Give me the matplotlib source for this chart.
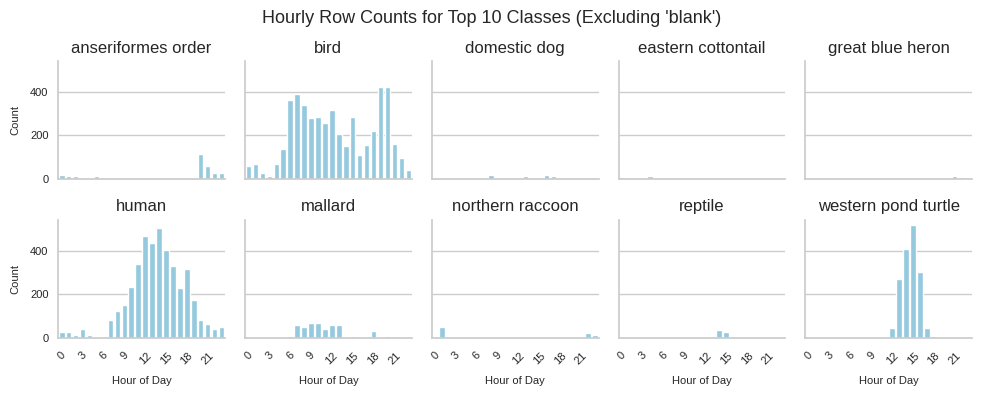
import matplotlib
matplotlib.use("Agg")
import matplotlib.pyplot as plt
import seaborn as sns

sns.set_theme(style="whitegrid")
plt.rcParams["font.family"] = ["Liberation Sans", "DejaVu Sans"]

hours = list(range(24))

classes = [
    "anseriformes order", "bird", "domestic dog", "eastern cottontail", "great blue heron",
    "human", "mallard", "northern raccoon", "reptile", "western pond turtle",
]

anseriformes_order = [20, 12, 16, 0, 0, 15, 0, 0, 0, 0, 0, 0, 0, 0, 0, 0, 0, 0, 0, 0, 113, 60, 29, 26]
bird = [62, 71, 27, 12, 71, 139, 362, 390, 339, 280, 285, 258, 317, 208, 153, 285, 112, 158, 221, 422, 422, 162, 98, 40]
domestic_dog = [0, 0, 0, 0, 0, 0, 0, 0, 19, 0, 0, 0, 0, 14, 0, 0, 21, 14, 0, 0, 0, 0, 0, 0]
eastern_cottontail = [10, 0, 0, 0, 12, 0, 0, 0, 0, 0, 0, 0, 0, 0, 0, 0, 0, 0, 0, 0, 0, 0, 0, 0]
great_blue_heron = [0, 0, 0, 0, 0, 0, 0, 0, 0, 0, 0, 0, 0, 0, 0, 0, 0, 0, 0, 0, 0, 16, 11, 0]
human = [28, 24, 14, 38, 14, 0, 0, 79, 121, 149, 232, 338, 465, 436, 502, 404, 329, 227, 315, 171, 79, 65, 38, 51]
mallard = [0, 0, 0, 0, 0, 0, 9, 56, 47, 66, 66, 38, 56, 56, 0, 9, 0, 0, 29, 0, 9, 9, 0, 0]
northern_raccoon = [0, 48, 0, 0, 0, 0, 0, 0, 0, 0, 0, 0, 0, 0, 0, 0, 0, 0, 0, 0, 0, 0, 23, 13]
reptile = [0, 0, 0, 0, 0, 0, 0, 0, 0, 0, 0, 0, 0, 0, 35, 26, 0, 0, 0, 0, 0, 0, 0, 0]
western_pond_turtle = [0, 0, 0, 0, 0, 0, 0, 0, 0, 0, 0, 0, 45, 269, 409, 516, 301, 45, 7, 0, 0, 0, 0, 0]

counts = [
    anseriformes_order, bird, domestic_dog, eastern_cottontail, great_blue_heron,
    human, mallard, northern_raccoon, reptile, western_pond_turtle,
]

bar_color = sns.desaturate("skyblue", 0.75)

fig, axes = plt.subplots(2, 5, figsize=(9.83, 3.93), dpi=100, sharex=True, sharey=True)
fig.subplots_adjust(left=0.0593, right=0.9888, bottom=0.1407, top=0.8448,
                    wspace=0.12, hspace=0.343)

for i, (ax, name, vals) in enumerate(zip(axes.flat, classes, counts)):
    ax.bar(hours, vals, width=0.8, color=bar_color, zorder=2)
    ax.set_title(name, fontsize=12, color="#262626")
    ax.grid(axis="x", visible=False)
    ax.set_xlim(-0.5, 23.5)
    ax.set_xticks(range(0, 24, 3))
    ax.tick_params(axis="both", labelsize=8, colors="#262626", length=0, pad=7)
    ax.tick_params(axis="x", pad=9)
    for side in ("top", "right"):
        ax.spines[side].set_visible(False)
    for side in ("left", "bottom"):
        ax.spines[side].set_color("#cccccc")
    if i % 5 == 0:
        ax.set_ylabel("Count", fontsize=8, labelpad=7)
    if i >= 5:
        ax.set_xlabel("Hour of Day", fontsize=8, labelpad=7)
        plt.setp(ax.get_xticklabels(), rotation=45)

axes[0, 0].set_ylim(0, max(max(v) for v in counts) * 1.05)
axes[0, 0].set_yticks([0, 200, 400])

fig.suptitle("Hourly Row Counts for Top 10 Classes (Excluding 'blank')", fontsize=13,
             color="#262626", y=0.975)

fig.savefig("out.png", dpi=100)
